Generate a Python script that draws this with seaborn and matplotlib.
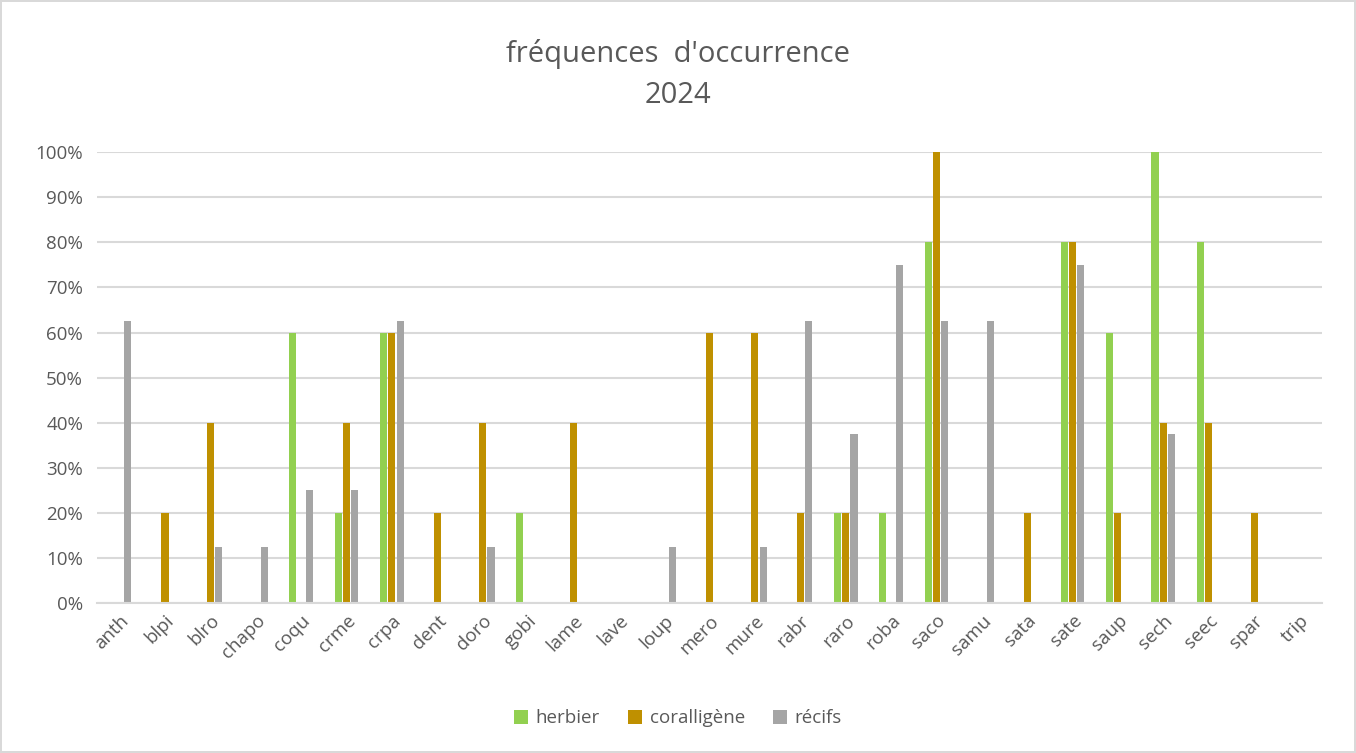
import pandas as pd
import seaborn as sns
import matplotlib.pyplot as plt
from matplotlib.ticker import PercentFormatter

species = ["anth", "blpi", "blro", "chapo", "coqu", "crme", "crpa", "dent", "doro",
           "gobi", "lame", "lave", "loup", "mero", "mure", "rabr", "raro", "roba",
           "saco", "samu", "sata", "sate", "saup", "sech", "seec", "spar", "trip"]
herbier = [0, 0, 0, 0, 60, 20, 60, 0, 0, 20, 0, 0, 0, 0, 0, 0, 20, 20,
           80, 0, 0, 80, 60, 100, 80, 0, 0]
coralligene = [0, 20, 40, 0, 0, 40, 60, 20, 40, 0, 40, 0, 0, 60, 60, 20, 20, 0,
               100, 0, 20, 80, 20, 40, 40, 20, 0]
recifs = [62.5, 0, 12.5, 12.5, 25, 25, 62.5, 0, 12.5, 0, 0, 0, 12.5, 0, 12.5, 62.5, 37.5, 75,
          62.5, 62.5, 0, 75, 0, 37.5, 0, 0, 0]
habitats = ["herbier", "coralligène", "récifs"]
colors = ["#92D050", "#BF9000", "#A5A5A5"]

df = pd.DataFrame({"espèce": species, "herbier": herbier,
                   "coralligène": coralligene, "récifs": recifs})
df = df.melt(id_vars="espèce", var_name="habitat", value_name="fréquence")

sns.set_theme(style="white")
plt.rcParams["font.family"] = ["Open Sans", "DejaVu Sans"]
text_color = "#595959"
grid_color = "#d9d9d9"

fig = plt.figure(figsize=(13.56, 7.53), dpi=100)
fig.patch.set_edgecolor(grid_color)
fig.patch.set_linewidth(1.5)
ax = fig.add_axes([0.0715, 0.199, 0.9035, 0.599])

sns.barplot(data=df, x="espèce", y="fréquence", hue="habitat", hue_order=habitats,
            palette=colors, saturation=1, width=0.55, gap=0.15, linewidth=0,
            ax=ax, legend=True)

ax.set_ylim(0, 100)
ax.set_yticks(range(0, 101, 10))
ax.yaxis.set_major_formatter(PercentFormatter(decimals=0))
ax.set_xlim(-0.5, len(species) - 0.5)
ax.grid(axis="y", color=grid_color, linewidth=1.5)
ax.set_axisbelow(True)
for side in ["top", "right", "left"]:
    ax.spines[side].set_visible(False)
ax.spines["bottom"].set_color(grid_color)
ax.spines["bottom"].set_linewidth(1.5)
ax.set_xlabel("")
ax.set_ylabel("")
ax.tick_params(axis="both", length=0, labelsize=13.5, labelcolor=text_color)
ax.tick_params(axis="y", pad=10)
ax.tick_params(axis="x", pad=6)
plt.setp(ax.get_xticklabels(), rotation=45, ha="right", rotation_mode="anchor")

fig.text(0.5, 0.901, "fréquences  d'occurrence\n2024", ha="center", va="center",
         fontsize=21, color=text_color, linespacing=1.55)

ax.legend(loc="center", bbox_to_anchor=(0.5, 0.046), bbox_transform=fig.transFigure,
          ncol=3, frameon=False, fontsize=13.5, labelcolor=text_color,
          handlelength=0.75, handleheight=0.75, handletextpad=0.4, columnspacing=1.5)

fig.savefig("out.png", dpi=100)
